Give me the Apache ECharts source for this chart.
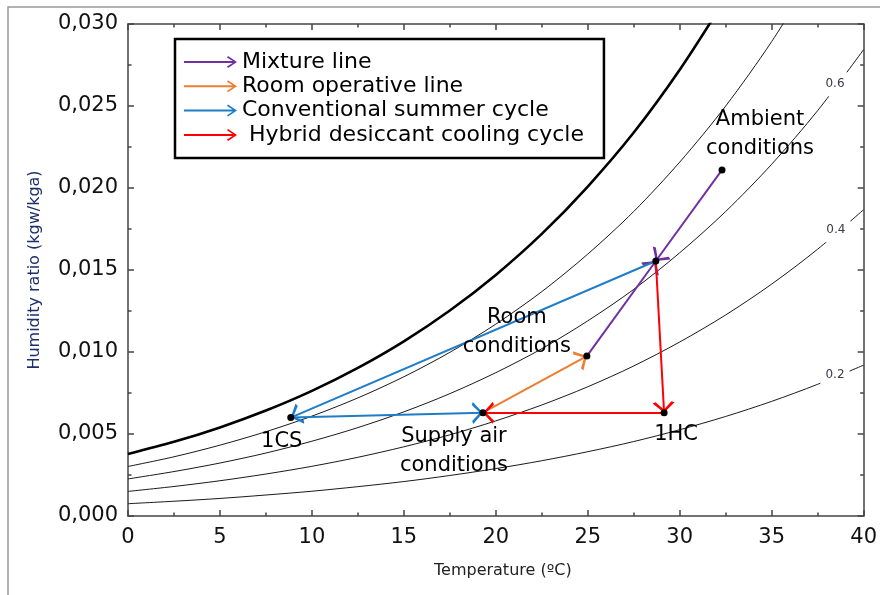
<!DOCTYPE html>
<html><head><meta charset="utf-8">
<script src="https://cdn.jsdelivr.net/npm/echarts@6/dist/echarts.min.js"></script>
<style>html,body{margin:0;padding:0;background:#fff}#c{width:880px;height:595px}</style>
</head><body><div id="c"></div>
<script>
// ---- data ----
const tempGrid = [0, 2.5, 5, 7.5, 10, 12.5, 15, 17.5, 20, 22.5, 25, 27.5, 30, 32.5, 35, 37.5, 40];
const rh100 = [0.00378, 0.00452, 0.00540, 0.00643, 0.00763, 0.00903, 0.01065, 0.01253, 0.01470, 0.01720, 0.02009, 0.02338, 0.02721, 0.03157];
const rh80  = [0.00302, 0.00361, 0.00432, 0.00514, 0.00609, 0.00720, 0.00849, 0.00998, 0.01170, 0.01368, 0.01597, 0.01857, 0.02158, 0.02500, 0.02893, 0.03341];
const rh60  = [0.00226, 0.00271, 0.00323, 0.00384, 0.00456, 0.00539, 0.00635, 0.00746, 0.00874, 0.01020, 0.01190, 0.01382, 0.01605, 0.01857, 0.02145, 0.02472, 0.02844];
const rh40  = [0.00150, 0.00180, 0.00215, 0.00256, 0.00303, 0.00358, 0.00422, 0.00495, 0.00580, 0.00677, 0.00788, 0.00915, 0.01061, 0.01226, 0.01414, 0.01627, 0.01868];
const rh20  = [0.00075, 0.00090, 0.00107, 0.00128, 0.00151, 0.00179, 0.00210, 0.00247, 0.00289, 0.00337, 0.00392, 0.00454, 0.00526, 0.00607, 0.00699, 0.00803, 0.00920];

const rhLabelText = ['0.6', '0.4', '0.2'];
const rhLabelT = [38.55, 38.6, 38.55];
const rhLabelW = [0.0262, 0.0173, 0.0085];

const pointNames = ['Ambient', 'Mixed', 'Room', 'Supply', '1HC', '1CS'];
const pointLabels = ['Ambient\nconditions', '', 'Room\nconditions', 'Supply air\nconditions', '1HC', '1CS'];
const pointT = [32.3, 28.7, 24.95, 19.3, 29.15, 8.85];
const pointW = [0.0211, 0.01555, 0.00975, 0.0063, 0.0063, 0.0060];

const arrowSeriesNames = ['Mixture line', 'Room operative line', 'Conventional summer cycle', 'Hybrid desiccant cooling cycle'];
const arrowPairs = [
  [[0, 1], [2, 1]],
  [[3, 2]],
  [[1, 5], [5, 3]],
  [[1, 4], [4, 3]]
];

const xTickLabels = ['0', '5', '10', '15', '20', '25', '30', '35', '40'];
const yTickLabels = ['0,000', '0,005', '0,010', '0,015', '0,020', '0,025', '0,030'];

// ---- styles ----
const FONT = "'DejaVu Sans', sans-serif";
const arrowColors = ['#7030A0', '#ED7D31', '#1F7DC8', '#FF0000'];
const labelCfg = {
  Ambient: [38, -36], Room: [-70, -24], Supply: [-29, 38], '1HC': [12, 22], '1CS': [-9, 24]
};
const ARROW_HEAD = 'path://M5,0 L5,0.01 Z M0,19 L5,10 L10,19 L8.6,20 L5,12.8 L1.4,20 Z';
const LEGEND_ICON = 'path://M0,5 L51,5 L51,7 L0,7 Z M44,0 L53,6 L44,12 L43,10.6 L50.2,6 L43,1.4 Z';

function pairs(ys) { return ys.map((y, i) => [tempGrid[i], y]); }

const curveSeries = [
  { d: rh100, w: 2.6, c: '#000' },
  { d: rh80, w: 1, c: '#1a1a1a' },
  { d: rh60, w: 1, c: '#1a1a1a' },
  { d: rh40, w: 1, c: '#1a1a1a' },
  { d: rh20, w: 1, c: '#1a1a1a' }
].map((s, i) => ({
  type: 'line', name: 'rh' + i, data: pairs(s.d), smooth: 0.3, showSymbol: false, symbol: 'none',
  lineStyle: { color: s.c, width: s.w, opacity: 1 }, silent: true, z: 2, xAxisIndex: 0, yAxisIndex: 0
}));

const rhLabelSeries = {
  type: 'scatter', symbolSize: 0, z: 3, silent: true,
  itemStyle: { opacity: 1 },
  data: rhLabelText.map((t, i) => ({ value: [rhLabelT[i], rhLabelW[i]], name: t })),
  label: {
    show: true, position: 'inside', formatter: p => p.name, color: '#3a3a4a', opacity: 1,
    offset: [-2, -2],
    fontFamily: FONT, fontSize: 12, backgroundColor: '#fff', padding: [3, 5, 9, 5]
  }
};

const arrowSeries = arrowSeriesNames.map((n, k) => ({
  type: 'lines', name: n, coordinateSystem: 'cartesian2d', z: 4,
  symbol: ['none', ARROW_HEAD], symbolSize: [11, 22],
  itemStyle: { color: arrowColors[k], opacity: 1 },
  lineStyle: { color: arrowColors[k], width: 2, opacity: 1 },
  data: arrowPairs[k].map(p => ({ coords: [[pointT[p[0]], pointW[p[0]]], [pointT[p[1]], pointW[p[1]]]] }))
}));

const pointSeries = {
  type: 'scatter', name: 'points', symbolSize: 7, z: 5, itemStyle: { color: '#000', opacity: 1 },
  data: pointNames.map((n, i) => {
    const off = labelCfg[n];
    return {
      value: [pointT[i], pointW[i]], name: n,
      label: off ? {
        show: true, position: 'inside', offset: off, formatter: pointLabels[i], opacity: 1,
        fontFamily: FONT, fontSize: 21, color: '#000', lineHeight: 29, align: 'center'
      } : { show: false }
    };
  })
};

const axisLineStyle = { color: '#444', width: 1.5 };
const option = {
  animation: false,
  backgroundColor: '#fff',
  grid: { left: 128, right: 12, top: 24, bottom: 79, containLabel: false },
  graphic: [{
    type: 'rect', shape: { x: 8, y: 7, width: 1000, height: 800 },
    style: { stroke: '#999', fill: null, lineWidth: 1.5 }, silent: true, z: -1
  }],
  legend: {
    left: 175, top: 39, orient: 'vertical', selectedMode: false,
    backgroundColor: '#fff', borderColor: '#000', borderWidth: 2.5,
    padding: [12, 20, 12, 9], itemGap: 2.3, itemWidth: 53, itemHeight: 12,
    textStyle: { fontFamily: FONT, fontSize: 22, color: '#000', lineHeight: 22 },
    formatter: n => n === 'Hybrid desiccant cooling cycle' ? ' ' + n : n,
    data: arrowSeriesNames.map((n, k) => ({ name: n, icon: LEGEND_ICON, itemStyle: { color: arrowColors[k], borderWidth: 0 } }))
  },
  xAxis: [{
    type: 'value', min: 0, max: 40, interval: 5, position: 'bottom',
    name: 'Temperature (ºC)', nameLocation: 'middle', nameGap: 47,
    nameTextStyle: { fontFamily: FONT, fontSize: 16, color: '#222', padding: [0, 0, 0, 14] },
    axisLine: { show: true, onZero: false, lineStyle: axisLineStyle },
    axisTick: { show: true, inside: true, length: 6, lineStyle: axisLineStyle },
    minorTick: { show: true, splitNumber: 2, length: 3.5, lineStyle: { color: '#444', width: 1.5 } },
    splitLine: { show: false },
    axisLabel: { fontFamily: FONT, fontSize: 21, color: '#111', margin: 11,
      formatter: v => xTickLabels[Math.round(v / 5)] }
  }, {
    type: 'value', min: 0, max: 40, interval: 5, position: 'top',
    axisLine: { show: true, onZero: false, lineStyle: axisLineStyle },
    axisTick: { show: true, inside: true, length: 6, lineStyle: axisLineStyle },
    minorTick: { show: true, splitNumber: 2, length: 3.5, lineStyle: { color: '#444', width: 1.5 } },
    splitLine: { show: false }, axisLabel: { show: false }
  }],
  yAxis: [{
    type: 'value', min: 0, max: 0.03, interval: 0.005, position: 'left',
    name: 'Humidity ratio (kgw/kga)', nameLocation: 'middle', nameGap: 85,
    nameTextStyle: { fontFamily: FONT, fontSize: 16, color: '#1c2f6b' },
    axisLine: { show: true, onZero: false, lineStyle: axisLineStyle },
    axisTick: { show: true, inside: true, length: 6, lineStyle: axisLineStyle },
    minorTick: { show: true, splitNumber: 2, length: 3.5, lineStyle: { color: '#444', width: 1.5 } },
    splitLine: { show: false },
    axisLabel: { fontFamily: FONT, fontSize: 21, color: '#111', margin: 10,
      formatter: v => yTickLabels[Math.round(v / 0.005)] }
  }, {
    type: 'value', min: 0, max: 0.03, interval: 0.005, position: 'right',
    axisLine: { show: true, onZero: false, lineStyle: axisLineStyle },
    axisTick: { show: true, inside: true, length: 6, lineStyle: axisLineStyle },
    minorTick: { show: true, splitNumber: 2, length: 3.5, lineStyle: { color: '#444', width: 1.5 } },
    splitLine: { show: false }, axisLabel: { show: false }
  }],
  series: [...curveSeries, rhLabelSeries, ...arrowSeries, pointSeries]
};

const chart = echarts.init(document.getElementById('c'));
chart.setOption(option);
</script>
</body></html>
